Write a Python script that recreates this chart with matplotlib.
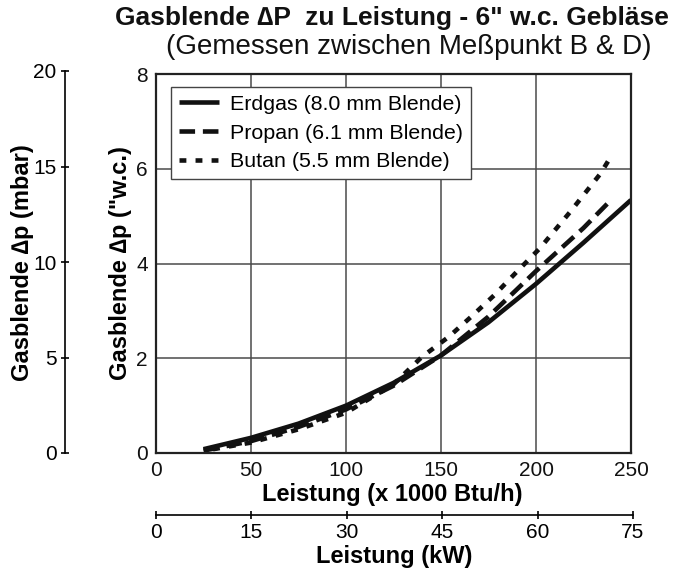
import numpy as np
import matplotlib
matplotlib.use("Agg")
import matplotlib.pyplot as plt

plt.rcParams['font.family'] = ['Liberation Sans', 'DejaVu Sans']

# Leistung in 1000 Btu/h, Gasblende dp in "w.c.
erdgas_x = [25, 50, 75, 100, 125, 150, 175, 200, 225, 250]
erdgas_y = [0.08, 0.32, 0.62, 1.0, 1.48, 2.06, 2.76, 3.57, 4.44, 5.34]
propan_x = [25, 50, 75, 100, 125, 150, 175, 200, 225, 238]
propan_y = [0.05, 0.25, 0.55, 0.92, 1.42, 2.06, 2.88, 3.84, 4.75, 5.28]
butan_x = [30, 50, 75, 100, 125, 140, 154, 166, 178, 190, 202, 218, 234, 239]
butan_y = [0.08, 0.22, 0.5, 0.85, 1.45, 2.03, 2.45, 2.88, 3.33, 3.83, 4.32, 5.09, 5.9, 6.23]

x_ticks = [0, 50, 100, 150, 200, 250]
y_ticks = [0, 2, 4, 6, 8]
mbar_ticks = [0, 5, 10, 15, 20]
kw_ticks = [0, 15, 30, 45, 60, 75]

fig = plt.figure(figsize=(6.74, 5.71), dpi=100)
W, H = 674, 571

def box(x0, y0, x1, y1):
    return [x0 / W, 1 - y1 / H, (x1 - x0) / W, (y1 - y0) / H]

ax = fig.add_axes(box(156, 74, 631, 453))
lw = 3.3
ax.plot(erdgas_x, erdgas_y, color='#111111', lw=lw, solid_capstyle='butt',
        label='Erdgas (8.0 mm Blende)')
ax.plot(propan_x, propan_y, color='#111111', lw=lw, dashes=(3.4, 1.7),
        dash_capstyle='butt', label='Propan (6.1 mm Blende)')
ax.plot(butan_x, butan_y, color='#111111', lw=lw, dashes=(1.5, 2.0),
        dash_capstyle='butt', label='Butan (5.5 mm Blende)')

ax.set_xlim(0, 250)
ax.set_ylim(0, 8)
ax.set_xticks(x_ticks)
ax.set_yticks(y_ticks)
ax.grid(True, color='#4a4a4a', lw=1.1)
ax.tick_params(length=0, labelsize=15, pad=6, colors='#111111')
for s in ax.spines.values():
    s.set_linewidth(1.6)
    s.set_color('#222222')
ax.set_xlabel('Leistung (x 1000 Btu/h)', fontsize=17, fontweight='bold')
ax.xaxis.set_label_coords(392 / W, 1 - 495 / H, transform=fig.transFigure)
ax.xaxis.label.set_va('center')
ax.set_ylabel('Gasblende \u2206p ("w.c.)', fontsize=17, fontweight='bold')
ax.yaxis.set_label_coords(120 / W, 1 - 263 / H, transform=fig.transFigure)
ax.yaxis.label.set_va('center')

leg = ax.legend(loc='upper left', bbox_to_anchor=(0.0316, 0.9657), fontsize=15.4,
                handlelength=1.87, handletextpad=0.5, labelspacing=0.45,
                borderpad=0.37, fancybox=False, framealpha=1, borderaxespad=0)
leg.get_frame().set_edgecolor('#444444')
leg.get_frame().set_linewidth(1.0)

# mbar axis on the left
ax2 = fig.add_axes(box(65, 71, 66, 453))
ax2.set_ylim(0, 20)
ax2.set_yticks(mbar_ticks)
ax2.set_xticks([])
for k in ['top', 'right', 'bottom']:
    ax2.spines[k].set_visible(False)
ax2.spines['left'].set_linewidth(1.2)
ax2.patch.set_visible(False)
ax2.tick_params(axis='y', direction='inout', length=6, width=1.2, labelsize=15, pad=3)
ax2.set_ylabel('Gasblende \u2206p (mbar)', fontsize=17, fontweight='bold')
ax2.yaxis.set_label_coords(22 / W, 1 - 263 / H, transform=fig.transFigure)
ax2.yaxis.label.set_va('center')

# kW axis below
ax3 = fig.add_axes(box(156, 514, 633, 515))
ax3.set_xlim(0, 75)
ax3.set_xticks(kw_ticks)
ax3.set_yticks([])
for k in ['top', 'right', 'left']:
    ax3.spines[k].set_visible(False)
ax3.spines['bottom'].set_linewidth(1.2)
ax3.patch.set_visible(False)
ax3.tick_params(axis='x', direction='inout', length=6, width=1.2, labelsize=15, pad=3)
ax3.set_xlabel('Leistung (kW)', fontsize=17, fontweight='bold')
ax3.xaxis.set_label_coords(394 / W, 1 - 557 / H, transform=fig.transFigure)
ax3.xaxis.label.set_va('center')

fig.text(392 / W, 1 - 18 / H, 'Gasblende \u2206P  zu Leistung - 6" w.c. Gebl\u00e4se',
         ha='center', va='center', fontsize=19, fontweight='bold', color='#111111')
fig.text(409 / W, 1 - 47 / H, '(Gemessen zwischen Me\u00dfpunkt B & D)',
         ha='center', va='center', fontsize=20, color='#111111')

fig.savefig('out.png', dpi=100)
